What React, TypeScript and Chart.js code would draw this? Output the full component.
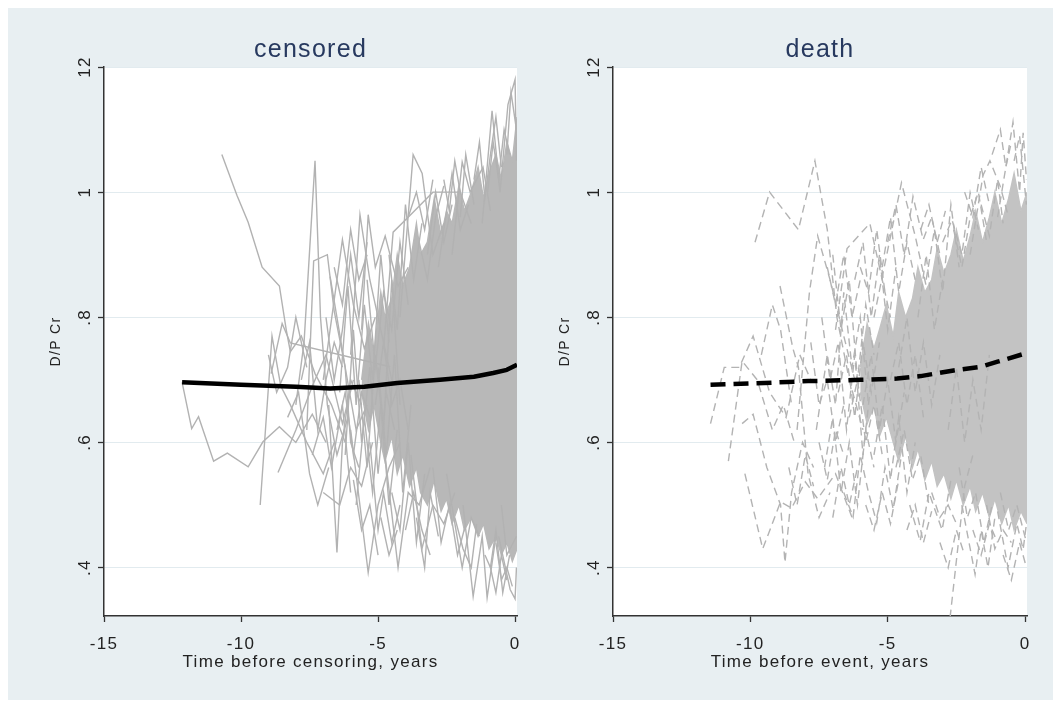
import React, { useEffect, useRef } from "react";
import { Chart, registerables } from "chart.js";

Chart.register(...registerables);

const FONT = '"Liberation Sans", Arial, Helvetica, sans-serif';
const BG = "#e8eff2";
const GRID = "#e2ebef";
const AXIS = "#333333";
const TEXT = "#222222";
const TITLE = "#27395f";

// ---- axis ticks ----
const xTicks = [-15, -10, -5, 0];
const xTickLabels = ["-15", "-10", "-5", "0"];
const yTicks = [0.4, 0.6, 0.8, 1.0, 1.2];
const yTickLabels = [".4", ".6", ".8", "1", "12"];
const xMin = -15;
const xMax = 0.07;
const yMin = 0.3226;
const yMax = 1.2;

// ---- panel titles ----
const panelTitles = ["censored", "death"];
const xTitles = ["Time before censoring, years", "Time before event, years"];
const yTitle = "D/P Cr";

// ---- mean curves ----
const censoredMeanX = [-12.15, -10, -8, -6.75, -5.5, -4.3, -2.74, -1.5, -0.8, -0.3, 0.07];
const censoredMeanY = [0.696, 0.692, 0.689, 0.686, 0.689, 0.695, 0.7, 0.705, 0.711, 0.716, 0.724];
const deathMeanX = [-11.45, -9.5, -7.9, -6.0, -4.66, -3.8, -2.6, -1.6, -1.0, 0.07];
const deathMeanY = [0.692, 0.695, 0.698, 0.7, 0.702, 0.706, 0.715, 0.721, 0.729, 0.743];

// ---- dense core of overlapping subject lines (upper / lower edge) ----
const censoredCoreX = [-5.6, -5.35, -5.15, -4.9, -4.75, -4.5, -4.3, -4.1, -3.85, -3.6, -3.45, -3.2, -2.95, -2.7, -2.5, -2.3, -2.05, -1.85, -1.6, -1.35, -1.15, -0.95, -0.7, -0.5, -0.3, -0.1, 0.07];
const censoredCoreHi = [0.7, 0.79, 0.74, 0.84, 0.8, 0.83, 0.9, 0.85, 0.88, 0.95, 0.9, 0.92, 0.99, 0.93, 0.97, 0.95, 1.01, 0.97, 1.0, 1.04, 0.99, 1.03, 1.06, 1.02, 1.08, 1.05, 1.12];
const censoredCoreLo = [0.68, 0.62, 0.66, 0.6, 0.57, 0.61, 0.55, 0.58, 0.53, 0.56, 0.52, 0.5, 0.54, 0.49, 0.51, 0.47, 0.5, 0.46, 0.48, 0.45, 0.47, 0.43, 0.45, 0.42, 0.44, 0.41, 0.43];
const deathCoreX = [-6.0, -5.75, -5.5, -5.3, -5.05, -4.8, -4.6, -4.35, -4.1, -3.9, -3.65, -3.4, -3.2, -2.95, -2.7, -2.5, -2.25, -2.0, -1.8, -1.55, -1.3, -1.1, -0.85, -0.6, -0.4, -0.15, 0.07];
const deathCoreHi = [0.72, 0.79, 0.75, 0.78, 0.82, 0.77, 0.84, 0.8, 0.83, 0.88, 0.84, 0.86, 0.91, 0.87, 0.9, 0.94, 0.89, 0.93, 0.97, 0.92, 0.96, 1.0, 0.95, 0.99, 1.03, 0.97, 1.0];
const deathCoreLo = [0.68, 0.63, 0.66, 0.61, 0.64, 0.6, 0.57, 0.61, 0.56, 0.59, 0.54, 0.57, 0.53, 0.55, 0.51, 0.54, 0.5, 0.53, 0.49, 0.52, 0.48, 0.51, 0.47, 0.5, 0.46, 0.49, 0.47];

// ---- individual subject trajectories: [x1, y1, x2, y2, ...] ----
const censoredPaths: number[][] = [
  [-12.15, 0.696, -11.8, 0.622, -11.55, 0.641, -11.0, 0.57, -10.5, 0.583, -9.74, 0.561, -9.2, 0.601, -8.6, 0.625, -8.0, 0.6, -7.4, 0.645, -6.9, 0.6],
  [-10.7, 1.06, -10.15, 0.995, -9.74, 0.952, -9.23, 0.88, -8.6, 0.85, -8.35, 0.78, -8.2, 0.745, -7.8, 0.77, -7.3, 0.71, -6.7, 0.66, -6.2, 0.6],
  [-9.3, 0.5, -8.87, 0.77, -8.55, 0.69, -8.2, 0.66, -7.6, 0.6, -7.0, 0.55, -6.6, 0.6],
  [-8.9, 0.71, -8.5, 0.79, -8.2, 0.759, -4.56, 0.721],
  [-8.0, 0.66, -7.7, 0.76, -7.3, 1.05, -7.1, 0.8, -6.85, 0.66, -6.5, 0.58, -6.1, 0.64],
  [-7.6, 0.62, -7.35, 0.89, -6.85, 0.9, -6.6, 0.81, -6.2, 0.72, -5.8, 0.62, -5.4, 0.66],
  [-8.65, 0.552, -8.0, 0.62, -7.4, 0.69, -6.9, 0.74, -6.3, 0.63, -5.9, 0.7],
  [-7.0, 0.52, -6.4, 0.5, -6.0, 0.56, -5.6, 0.53, -5.2, 0.6],
  [-6.8, 0.66, -6.5, 0.424, -6.3, 0.6, -6.0, 0.7, -5.6, 0.66],
  [-6.0, 0.62, -5.36, 0.392, -5.0, 0.5, -4.6, 0.56, -4.2, 0.6],
  [-4.8, 0.6, -4.27, 0.4, -3.9, 0.52, -3.5, 0.5, -3.1, 0.56],
  [-7.0, 0.7, -6.3, 0.924, -5.9, 0.82, -5.5, 0.75, -5.1, 0.8],
  [-6.75, 0.865, -6.5, 0.8, -6.2, 0.72, -6.0, 0.6, -5.7, 0.56],
  [-6.0, 0.74, -5.66, 0.964, -5.3, 0.86, -5.0, 0.8, -4.5, 0.7],
  [-5.6, 0.78, -5.36, 0.964, -5.1, 0.88, -4.74, 0.93, -4.27, 0.85, -3.9, 0.88],
  [-4.8, 0.75, -4.45, 0.936, -3.72, 0.968, -3.0, 1.0, -2.0, 1.0, -1.6, 0.95],
  [-4.2, 0.8, -3.72, 1.06, -3.39, 1.03, -3.0, 0.9, -2.6, 0.95],
  [-2.8, 0.88, -2.3, 1.03, -2.0, 0.94, -1.7, 0.98],
  [-2.3, 0.9, -1.93, 1.048, -1.64, 1.0, -1.17, 1.04, -0.9, 0.97],
  [-1.2, 0.95, -0.84, 1.13, -0.55, 1.0, -0.26, 1.14, 0, 1.18, 0.05, 1.05],
  [-3.8, 0.58, -3.4, 0.43, -3.0, 0.5, -2.6, 0.47, -2.2, 0.52],
  [-2.5, 0.55, -1.93, 0.4, -1.6, 0.48, -1.3, 0.45],
  [-1.9, 0.5, -1.53, 0.354, -1.2, 0.45, -1.02, 0.352, -0.7, 0.45],
  [-0.6, 0.45, -0.18, 0.365, 0, 0.35, 0.05, 0.4],
  [-0.5, 0.5, -0.3, 0.42, 0.05, 0.45],
  [-6.4, 0.68, -6.1, 0.85, -5.8, 0.66, -5.5, 0.82, -5.2, 0.7, -4.9, 0.9, -4.6, 0.76],
  [-6.2, 0.58, -5.9, 0.78, -5.6, 0.6, -5.3, 0.72, -5.0, 0.55, -4.7, 0.68, -4.4, 0.62],
  [-5.8, 0.5, -5.5, 0.64, -5.2, 0.52, -4.9, 0.66, -4.6, 0.5, -4.3, 0.62],
  [-5.4, 0.86, -5.1, 0.72, -4.8, 0.84, -4.5, 0.78, -4.2, 0.92, -3.9, 0.82],
  [-5.0, 0.72, -4.7, 0.58, -4.4, 0.74, -4.1, 0.52, -3.8, 0.66],
  [-4.6, 0.9, -4.3, 0.78, -4.0, 0.98, -3.7, 0.86, -3.4, 0.95],
  [-4.5, 0.52, -4.2, 0.46, -3.9, 0.6, -3.6, 0.44, -3.3, 0.55],
  [-3.6, 0.48, -3.3, 0.4, -3.1, 0.52, -2.8, 0.45],
  [-3.2, 0.9, -2.9, 1.0, -2.6, 0.92, -2.3, 0.98],
  [-2.2, 0.48, -1.9, 0.43, -1.6, 0.4, -1.4, 0.47],
  [-1.0, 1.0, -0.8, 1.08, -0.6, 1.02, -0.4, 1.1, -0.2, 1.06],
  [-0.7, 0.44, -0.5, 0.38, -0.3, 0.4, -0.1, 0.37],
  [-7.4, 0.58, -7.0, 0.64, -6.7, 0.56, -6.3, 0.66, -6.0, 0.52],
  [-7.8, 0.7, -7.5, 0.76, -7.2, 0.62, -6.9, 0.7, -6.6, 0.76, -6.3, 0.72],
  [-8.3, 0.64, -7.9, 0.68, -7.5, 0.55, -7.2, 0.5, -6.8, 0.56],
  [-6.9, 0.8, -6.6, 0.7, -6.3, 0.78, -6.0, 0.9, -5.7, 0.8, -5.4, 0.92],
  [-5.3, 0.6, -5.0, 0.46, -4.8, 0.52, -4.5, 0.44, -4.2, 0.5],
  [-3.0, 0.56, -2.7, 0.44, -2.4, 0.5, -2.1, 0.42, -1.8, 0.47],
  [-1.5, 1.02, -1.3, 1.08, -1.1, 0.99, -0.9, 1.06, -0.7, 1.12, -0.5, 1.04],
  [-0.3, 1.06, -0.15, 1.16, 0.05, 1.1],
  [-2.0, 0.96, -1.8, 1.06, -1.5, 0.98],
  [-3.5, 0.92, -3.2, 0.86, -2.9, 0.96, -2.6, 1.01],
  [-1.1, 0.42, -0.9, 0.4, -0.7, 0.36, -0.5, 0.42, -0.3, 0.38],
  [-5.1, 0.66, -4.8, 0.76, -4.5, 0.66, -4.2, 0.7, -3.9, 0.62],
  [-9.0, 0.74, -8.7, 0.68, -8.3, 0.72, -8.0, 0.8, -7.6, 0.72],
  [-4.0, 0.46, -3.7, 0.52, -3.4, 0.46, -3.1, 0.42],
  [-2.6, 1.02, -2.4, 0.97, -2.2, 1.05, -2.0, 1.0],
  [-0.9, 0.4, -0.7, 0.46, -0.45, 0.36, -0.2, 0.42],
  [-3.9, 0.96, -3.6, 1.0, -3.3, 0.94, -3.0, 1.02],
  [-6.6, 0.88, -6.3, 0.82, -6.0, 0.94, -5.7, 0.86, -5.4, 0.9],
  [-5.9, 0.54, -5.6, 0.46, -5.3, 0.5, -5.0, 0.42],
  [-4.9, 0.48, -4.6, 0.42, -4.3, 0.46],
  [-5.7, 0.7, -5.4, 0.56, -5.1, 0.74, -4.8, 0.62, -4.5, 0.86, -4.2, 0.66],
  [-6.5, 0.62, -6.2, 0.68, -5.9, 0.58, -5.6, 0.68, -5.3, 0.64],
];

const deathPaths: number[][] = [
  [-11.45, 0.63, -10.95, 0.72, -10.4, 0.72, -9.9, 0.77, -9.3, 0.68, -8.7, 0.64, -8.2, 0.74, -7.8, 0.7],
  [-10.8, 0.57, -10.3, 0.73, -9.75, 0.7, -9.2, 0.62, -8.8, 0.66, -8.4, 0.6],
  [-10.2, 0.55, -9.55, 0.43, -8.9, 0.505, -8.5, 0.495, -8.0, 0.537, -7.55, 0.51, -6.9, 0.55, -6.3, 0.48],
  [-10.3, 0.63, -9.9, 0.645, -9.4, 0.56, -8.9, 0.5, -8.74, 0.408, -8.5, 0.52, -8.1, 0.6, -7.7, 0.56],
  [-9.83, 0.92, -9.3, 1.0, -8.25, 0.94, -7.65, 1.05, -7.2, 0.94, -6.85, 0.8, -6.4, 0.7, -5.9, 0.62],
  [-8.3, 0.62, -7.85, 0.84, -7.55, 0.93, -7.1, 0.86, -6.6, 0.77, -6.2, 0.7],
  [-8.92, 0.85, -8.45, 0.75, -8.25, 0.72, -7.9, 0.55, -7.5, 0.48, -7.1, 0.52],
  [-6.9, 0.78, -6.48, 0.91, -5.65, 0.95, -5.2, 0.86, -4.9, 0.8],
  [-5.5, 0.8, -4.5, 1.015, -4.0, 0.93, -3.6, 0.85],
  [-7.6, 0.62, -7.2, 0.74, -6.9, 0.66, -6.6, 0.84, -6.3, 0.72, -6.0, 0.8, -5.7, 0.66],
  [-7.4, 0.8, -7.1, 0.7, -6.8, 0.76, -6.5, 0.62, -6.2, 0.74, -5.9, 0.58, -5.6, 0.7],
  [-7.3, 0.56, -7.0, 0.64, -6.7, 0.52, -6.4, 0.6, -6.1, 0.5, -5.8, 0.62, -5.5, 0.56],
  [-7.0, 0.9, -6.7, 0.78, -6.4, 0.86, -6.1, 0.7, -5.8, 0.82, -5.5, 0.74],
  [-6.6, 0.52, -6.26, 0.481, -6.0, 0.58, -5.7, 0.52, -5.4, 0.472, -5.1, 0.56, -4.8, 0.493, -4.5, 0.58],
  [-6.2, 0.86, -5.9, 0.92, -5.6, 0.8, -5.3, 0.9, -5.0, 0.78, -4.7, 0.88],
  [-5.9, 0.66, -5.6, 0.74, -5.3, 0.62, -5.0, 0.7, -4.7, 0.6, -4.4, 0.68],
  [-5.5, 0.58, -5.2, 0.66, -4.9, 0.54, -4.6, 0.64, -4.3, 0.52, -4.0, 0.6],
  [-5.2, 0.88, -4.9, 0.96, -4.6, 0.84, -4.3, 0.92, -4.0, 0.86],
  [-4.4, 0.9, -4.08, 0.993, -3.71, 0.924, -3.4, 0.96, -3.1, 0.9],
  [-4.2, 0.5, -3.82, 0.442, -3.5, 0.52, -3.02, 0.46, -2.7, 0.54],
  [-2.73, 0.32, -2.2, 0.53, -1.9, 0.58],
  [-3.0, 0.92, -2.66, 0.956, -2.3, 0.9, -2.0, 0.999, -1.7, 0.94],
  [-2.0, 0.9, -1.53, 1.027, -1.28, 1.05, -0.91, 1.01, -0.6, 0.96],
  [-1.0, 0.96, -0.7, 1.04, -0.44, 1.112, -0.2, 1.0, -0.07, 1.095, 0.05, 1.02],
  [-2.3, 0.5, -1.82, 0.389, -1.6, 0.46, -1.35, 0.4, -1.1, 0.48],
  [-1.0, 0.49, -0.62, 0.4, -0.3, 0.47, -0.07, 0.429, 0.05, 0.47],
  [-3.6, 0.86, -3.3, 0.94, -3.0, 0.84, -2.7, 0.98, -2.4, 0.88],
  [-0.4, 1.05, -0.2, 1.09, 0.05, 0.98],
  [-1.6, 0.98, -1.3, 0.93, -1.0, 1.02, -0.8, 0.95],
  [-3.4, 0.52, -3.1, 0.48, -2.8, 0.5, -2.5, 0.47],
  [-1.4, 0.5, -1.1, 0.43, -0.8, 0.46, -0.5, 0.44],
  [-6.8, 0.68, -6.5, 0.74, -6.2, 0.64, -5.9, 0.76, -5.6, 0.68, -5.3, 0.76],
  [-7.8, 0.76, -7.5, 0.66, -7.2, 0.7, -6.9, 0.6, -6.6, 0.66],
  [-8.6, 0.56, -8.3, 0.5, -8.0, 0.58, -7.7, 0.53],
  [-4.9, 0.7, -4.6, 0.76, -4.3, 0.66, -4.0, 0.74, -3.7, 0.64],
  [-4.7, 0.56, -4.4, 0.62, -4.1, 0.54, -3.8, 0.58, -3.5, 0.5],
  [-3.9, 0.8, -3.6, 0.9, -3.3, 0.78, -3.0, 0.86],
  [-2.6, 0.94, -2.3, 0.88, -2.0, 0.96, -1.7, 1.0, -1.4, 0.92],
  [-2.4, 0.56, -2.1, 0.48, -1.8, 0.52, -1.5, 0.44, -1.2, 0.5],
  [-0.9, 0.52, -0.6, 0.46, -0.3, 0.5, 0.05, 0.44],
  [-9.6, 0.74, -9.2, 0.82, -8.9, 0.78, -8.5, 0.66],
  [-6.0, 0.88, -5.7, 0.84, -5.4, 0.94, -5.1, 0.84],
  [-7.2, 0.88, -6.9, 0.82, -6.6, 0.9, -6.3, 0.8, -6.0, 0.86],
  [-7.0, 0.48, -6.7, 0.56, -6.4, 0.5, -6.1, 0.56],
  [-5.8, 0.5, -5.5, 0.46, -5.2, 0.52, -4.9, 0.47, -4.6, 0.54],
  [-4.3, 0.46, -4.0, 0.5, -3.7, 0.44, -3.4, 0.49],
  [-3.8, 0.94, -3.5, 0.98, -3.2, 0.92, -2.9, 0.97],
  [-2.2, 1.0, -1.9, 0.96, -1.6, 1.04, -1.3, 0.98],
  [-1.2, 1.06, -0.9, 1.1, -0.7, 1.04, -0.5, 1.08],
  [-3.1, 0.44, -2.8, 0.4, -2.5, 0.46, -2.2, 0.42],
  [-0.8, 0.42, -0.5, 0.38, -0.2, 0.44, 0.05, 0.4],
  [-1.9, 0.46, -1.6, 0.42, -1.3, 0.47, -1.0, 0.44],
  [-5.0, 0.92, -4.7, 0.98, -4.4, 0.9],
  [-6.4, 0.64, -6.1, 0.7, -5.8, 0.6, -5.5, 0.66, -5.2, 0.58],
  [-7.5, 0.6, -7.2, 0.54, -6.9, 0.62, -6.6, 0.58],
  [-4.6, 0.72, -4.3, 0.8, -4.0, 0.68, -3.7, 0.76, -3.4, 0.66, -3.1, 0.74],
  [-2.8, 0.62, -2.5, 0.72, -2.2, 0.6, -1.9, 0.7, -1.6, 0.62, -1.3, 0.74],
];

function pairs(flat: number[]) {
  const out: { x: number; y: number }[] = [];
  for (let i = 0; i + 1 < flat.length; i += 2) out.push({ x: flat[i], y: flat[i + 1] });
  return out;
}
function zip(xs: number[], ys: number[]) {
  return xs.map((x, i) => ({ x, y: ys[i] }));
}

const plotBgPlugin = {
  id: "plotBg",
  beforeDraw(chart: any) {
    const { ctx, chartArea: a } = chart;
    ctx.save();
    ctx.fillStyle = "#ffffff";
    ctx.fillRect(a.left, a.top, a.right - a.left, a.bottom - a.top);
    ctx.restore();
    ctx.letterSpacing = "1.3px";
  },
};

type Spec = {
  title: string;
  xTitle: string;
  paths: number[][];
  dashed: boolean;
  meanX: number[];
  meanY: number[];
  coreX: number[];
  coreHi: number[];
  coreLo: number[];
  coreColor: string;
  lineColor: string;
};

function buildConfig(s: Spec, padRight: number): any {
  const lineSets = s.paths.map((p) => ({
    data: pairs(p),
    borderColor: s.lineColor,
    borderWidth: 1.4,
    borderDash: s.dashed ? [8, 5] : [],
    pointRadius: 0,
    fill: false,
    order: 1,
  }));
  const datasets: any[] = [
    {
      data: zip(s.meanX, s.meanY),
      borderColor: "#000000",
      borderWidth: 4.5,
      borderDash: s.dashed ? [15, 8] : [],
      borderJoinStyle: "round",
      pointRadius: 0,
      fill: false,
      order: 0,
    },
    ...lineSets,
    {
      data: zip(s.coreX, s.coreHi),
      borderColor: s.coreColor,
      backgroundColor: s.coreColor,
      borderWidth: 1.4,
      pointRadius: 0,
      fill: "+1",
      order: 2,
    },
    {
      data: zip(s.coreX, s.coreLo),
      borderColor: s.coreColor,
      borderWidth: 1.4,
      pointRadius: 0,
      fill: false,
      order: 2,
    },
  ];

  return {
    type: "line",
    data: { datasets },
    plugins: [plotBgPlugin],
    options: {
      animation: false,
      responsive: false,
      maintainAspectRatio: false,
      events: [],
      layout: { padding: { left: 0, right: padRight, top: 0, bottom: 0 } },
      elements: { line: { tension: 0 }, point: { radius: 0 } },
      plugins: {
        legend: { display: false },
        tooltip: { enabled: false },
        title: {
          display: true,
          text: s.title,
          fullSize: false,
          color: TITLE,
          font: { family: FONT, size: 25, weight: "normal" },
          padding: { top: 27, bottom: 2 },
        },
      },
      scales: {
        x: {
          type: "linear",
          min: xMin,
          max: xMax,
          bounds: "data",
          afterBuildTicks: (sc: any) => {
            sc.ticks = xTicks.map((v) => ({ value: v }));
          },
          afterFit: (sc: any) => {
            sc.height = 84;
            sc.paddingLeft = 0;
            sc.paddingRight = 0;
          },
          ticks: {
            autoSkip: false,
            maxRotation: 0,
            minRotation: 0,
            padding: 12,
            color: TEXT,
            font: { family: FONT, size: 17 },
            callback: (_v: any, i: number) => xTickLabels[i],
          },
          grid: {
            drawOnChartArea: false,
            drawTicks: true,
            tickLength: 6,
            tickColor: AXIS,
            tickWidth: 1.3,
          },
          border: { display: true, color: AXIS, width: 1.5 },
          title: {
            display: true,
            text: s.xTitle,
            color: TEXT,
            font: { family: FONT, size: 17 },
            padding: { top: 0, bottom: 27 },
          },
        },
        y: {
          type: "linear",
          min: yMin,
          max: yMax,
          bounds: "data",
          afterBuildTicks: (sc: any) => {
            sc.ticks = yTicks.map((v) => ({ value: v }));
          },
          afterFit: (sc: any) => {
            sc.width = 96;
            sc.paddingTop = 0;
            sc.paddingBottom = 0;
          },
          ticks: {
            autoSkip: false,
            minRotation: 90,
            maxRotation: 90,
            crossAlign: "center",
            padding: 3,
            color: TEXT,
            font: { family: FONT, size: 17 },
            callback: (_v: any, i: number) => yTickLabels[i],
          },
          grid: {
            color: GRID,
            lineWidth: 1,
            drawTicks: true,
            tickLength: 6,
            tickColor: AXIS,
            tickWidth: 1.3,
          },
          border: { display: true, color: AXIS, width: 1.5 },
          title: {
            display: true,
            text: yTitle,
            color: TEXT,
            font: { family: FONT, size: 14 },
            padding: { top: 40, bottom: 0 },
          },
        },
      },
    },
  };
}

function Panel({ spec, left, width, padRight }: { spec: Spec; left: number; width: number; padRight: number }) {
  const ref = useRef<HTMLCanvasElement | null>(null);
  useEffect(() => {
    if (!ref.current) return;
    const chart = new Chart(ref.current, buildConfig(spec, padRight));
    return () => chart.destroy();
  }, []);
  return (
    <canvas
      ref={ref}
      width={width}
      height={692}
      style={{ position: "absolute", left, top: 0, width, height: 692 }}
    />
  );
}

const censoredSpec: Spec = {
  title: panelTitles[0],
  xTitle: xTitles[0],
  paths: censoredPaths,
  dashed: false,
  meanX: censoredMeanX,
  meanY: censoredMeanY,
  coreX: censoredCoreX,
  coreHi: censoredCoreHi,
  coreLo: censoredCoreLo,
  coreColor: "#b8b8b8",
  lineColor: "#b2b2b2",
};

const deathSpec: Spec = {
  title: panelTitles[1],
  xTitle: xTitles[1],
  paths: deathPaths,
  dashed: true,
  meanX: deathMeanX,
  meanY: deathMeanY,
  coreX: deathCoreX,
  coreHi: deathCoreHi,
  coreLo: deathCoreLo,
  coreColor: "#c3c3c3",
  lineColor: "#b3b3b3",
};

export default function App() {
  return (
    <div style={{ position: "relative", width: 1045, height: 692, background: BG, overflow: "hidden" }}>
      <Panel spec={censoredSpec} left={0} width={540} padRight={31} />
      <Panel spec={deathSpec} left={509} width={536} padRight={26} />
    </div>
  );
}
